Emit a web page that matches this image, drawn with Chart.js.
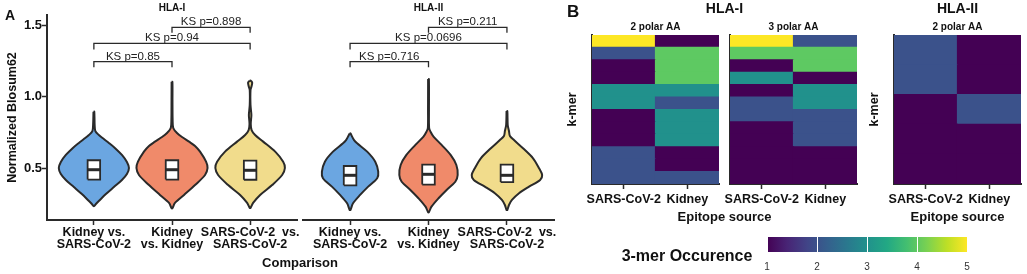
<!DOCTYPE html>
<html><head><meta charset="utf-8">
<script src="https://cdn.jsdelivr.net/npm/chart.js@4.4.1/dist/chart.umd.min.js"></script>
<style>
html,body{margin:0;padding:0;background:#fff;}
#wrap{position:relative;width:1027px;height:274px;overflow:hidden;background:#fff;}
canvas{position:absolute;left:0;top:0;}
</style></head><body>
<div id="wrap">
<canvas id="a1" width="1027" height="274"></canvas>
<canvas id="a2" width="1027" height="274"></canvas>
<canvas id="b1" width="1027" height="274"></canvas>
<canvas id="b2" width="1027" height="274"></canvas>
<canvas id="b3" width="1027" height="274"></canvas>
<canvas id="cb" width="1027" height="274"></canvas>
</div>
<script>
// ---------------- DATA ----------------
const comparisonLabels = [["Kidney vs.", "SARS-CoV-2"], ["Kidney", "vs. Kidney"], ["SARS-CoV-2  vs.", "SARS-CoV-2"]];
const yTicks = [0.5, 1.0, 1.5];
const pairs = [[1, 2], [1, 3], [2, 3]];
const ksHLA1 = ["KS p=0.85", "KS p=0.94", "KS p=0.898"];
const ksHLA2 = ["KS p=0.716", "KS p=0.0696", "KS p=0.211"];
const bracketTop = [1.244, 1.372, 1.484];
const bracketLow = [1.205, 1.330, 1.446];

// violin outlines: levels (Normalized Blosum62) and density half-widths (category units)
const hla1KvsS_levels = [0.895, 0.802, 0.760, 0.732, 0.704, 0.677, 0.642, 0.593, 0.544, 0.502, 0.460, 0.418, 0.369, 0.320, 0.279, 0.251, 0.237];
const hla1KvsS_dens   = [0.005, 0.010, 0.019, 0.064, 0.128, 0.192, 0.269, 0.359, 0.423, 0.449, 0.423, 0.359, 0.256, 0.154, 0.077, 0.026, 0.005];
const hla1KvsK_levels = [1.104, 0.977, 0.837, 0.781, 0.746, 0.718, 0.686, 0.656, 0.616, 0.546, 0.502, 0.453, 0.383, 0.314, 0.258, 0.221];
const hla1KvsK_dens   = [0.005, 0.006, 0.008, 0.016, 0.064, 0.128, 0.218, 0.295, 0.359, 0.436, 0.455, 0.423, 0.295, 0.154, 0.038, 0.005];
const hla1SvsS_levels = [1.112, 1.099, 1.074, 1.046, 0.941, 0.872, 0.809, 0.767, 0.732, 0.686, 0.616, 0.546, 0.502, 0.453, 0.383, 0.314, 0.258, 0.223];
const hla1SvsS_dens   = [0.005, 0.026, 0.019, 0.005, 0.005, 0.016, 0.008, 0.019, 0.064, 0.167, 0.321, 0.423, 0.445, 0.410, 0.282, 0.128, 0.038, 0.005];
const hla2KvsS_levels = [0.744, 0.721, 0.697, 0.674, 0.616, 0.546, 0.476, 0.430, 0.372, 0.314, 0.256, 0.209];
const hla2KvsS_dens   = [0.005, 0.026, 0.051, 0.090, 0.218, 0.321, 0.359, 0.346, 0.231, 0.128, 0.038, 0.005];
const hla2KvsK_levels = [1.123, 0.907, 0.781, 0.755, 0.721, 0.663, 0.593, 0.523, 0.453, 0.406, 0.349, 0.291, 0.232, 0.193];
const hla2KvsK_dens   = [0.005, 0.006, 0.008, 0.026, 0.064, 0.167, 0.282, 0.355, 0.372, 0.342, 0.231, 0.128, 0.038, 0.005];
const hla2SvsS_levels = [0.900, 0.802, 0.760, 0.725, 0.697, 0.640, 0.570, 0.500, 0.453, 0.418, 0.372, 0.326, 0.279, 0.244, 0.209];
const hla2SvsS_dens   = [0.005, 0.010, 0.026, 0.038, 0.090, 0.205, 0.333, 0.410, 0.449, 0.423, 0.282, 0.154, 0.064, 0.026, 0.005];

// box stats
const hla1Q1 = [0.421, 0.421, 0.420];
const hla1Q3 = [0.556, 0.556, 0.553];
const hla1Med = [0.490, 0.490, 0.486];
const hla2Q1 = [0.381, 0.386, 0.404];
const hla2Q3 = [0.516, 0.526, 0.526];
const hla2Med = [0.451, 0.458, 0.451];

// heatmaps (rows top to bottom), 3-mer occurrence
const sourceLabels = ["SARS-CoV-2", "Kidney"];
const hla1Polar2_sars   = [5, 2, 1, 1, 3, 3, 1, 1, 1, 2, 2, 2];
const hla1Polar2_kidney = [1, 4, 4, 4, 3, 2, 3, 3, 3, 1, 1, 2];
const hla1Polar3_sars   = [5, 4, 1, 3, 1, 2, 2, 1, 1, 1, 1, 1];
const hla1Polar3_kidney = [2, 4, 4, 1, 3, 3, 2, 2, 2, 1, 1, 1];
const hla2Polar2_sars   = [2, 2, 1, 1, 1];
const hla2Polar2_kidney = [1, 1, 2, 1, 1];
const colorbarTicks = [1, 2, 3, 4, 5];

// ---------------- STYLE ----------------
const FONT = '"Liberation Sans", Arial, Helvetica, sans-serif';
Chart.defaults.font.family = FONT;
const EDGE = '#2a2a2a';
const VCOL = ['#6ba6e1', '#f08a6a', '#f1dc8c'];
const VIR5 = ['#440154', '#3b528b', '#21918c', '#5ec962', '#fde725'];
const VIR_STOPS = ['#440154', '#482475', '#414487', '#355f8d', '#2a788e', '#21918c', '#22a884', '#44bf70', '#7ad151', '#bddf26', '#fde725'];

function textPlugin(items) {
  return {
    id: 'txt',
    afterDraw(chart) {
      const ctx = chart.ctx;
      items.forEach(t => {
        const p = typeof t.pos === 'function' ? t.pos(chart) : t.pos;
        ctx.save();
        ctx.font = t.font;
        ctx.fillStyle = t.color || '#111';
        ctx.textAlign = t.align || 'center';
        ctx.textBaseline = 'alphabetic';
        ctx.fillText(t.text, p.x, p.y);
        ctx.restore();
      });
    }
  };
}

function violinPoints(c, levels, dens) {
  const left = levels.map((y, i) => ({x: c - dens[i], y}));
  const right = levels.map((y, i) => ({x: c + dens[i], y})).reverse();
  const pts = left.concat(right);
  pts.push(pts[0]);
  return pts;
}

function violinDatasets(levels, dens, q1, q3, med) {
  const ds = [];
  const bw = 0.08;
  for (let i = 0; i < 3; i++) {
    const c = i + 1;
    ds.push({data: violinPoints(c, levels[i], dens[i]), showLine: true, fill: 'shape',
      backgroundColor: VCOL[i], borderColor: EDGE, borderWidth: 2, tension: 0.3, pointRadius: 0, order: 3});
    ds.push({data: [{x: c - bw, y: q1[i]}, {x: c + bw, y: q1[i]}, {x: c + bw, y: q3[i]}, {x: c - bw, y: q3[i]}, {x: c - bw, y: q1[i]}],
      showLine: true, fill: 'shape', backgroundColor: '#fff', borderColor: EDGE, borderWidth: 1.8, tension: 0, pointRadius: 0, order: 2, borderJoinStyle: 'miter'});
    ds.push({data: [{x: c - bw, y: med[i]}, {x: c + bw, y: med[i]}], showLine: true, fill: false,
      borderColor: EDGE, borderWidth: 3, tension: 0, pointRadius: 0, order: 1});
  }
  pairs.forEach(([a, b], k) => {
    ds.push({data: [{x: a, y: bracketLow[k]}, {x: a, y: bracketTop[k]}, {x: b, y: bracketTop[k]}, {x: b, y: bracketLow[k]}],
      showLine: true, fill: false, borderColor: EDGE, borderWidth: 1.3, tension: 0, pointRadius: 0, order: 0});
  });
  return ds;
}

function ksTexts(labels) {
  return pairs.map(([a, b], k) => ({
    text: labels[k], font: `11.5px ${FONT}`, color: '#222',
    pos: ch => ({x: ch.scales.x.getPixelForValue((a + b) / 2), y: ch.scales.y.getPixelForValue(bracketTop[k]) - 2})
  }));
}

function violinChart(id, levels, dens, q1, q3, med, padL, padR, showY, texts) {
  return new Chart(document.getElementById(id), {
    type: 'scatter',
    data: {datasets: violinDatasets(levels, dens, q1, q3, med)},
    options: {
      responsive: false, animation: false, events: [], devicePixelRatio: 1,
      layout: {padding: {left: padL, right: padR, top: 15, bottom: 0}},
      plugins: {legend: {display: false}, tooltip: {enabled: false}},
      scales: {
        x: {type: 'linear', min: 0.4, max: 3.6,
          afterBuildTicks: s => { s.ticks = [1, 2, 3].map(v => ({value: v})); },
          afterFit: s => { s.height = 54; },
          ticks: {callback: v => comparisonLabels[v - 1], autoSkip: false, maxRotation: 0, minRotation: 0, padding: 1,
            color: '#111', font: {size: 12.5, weight: 'bold', lineHeight: 1.0}},
          grid: {drawOnChartArea: false, drawTicks: true, tickLength: 5, tickColor: EDGE, tickWidth: 1.5},
          border: {color: EDGE, width: 2}},
        y: {type: 'linear', min: 0.139, max: 1.57, display: showY,
          afterBuildTicks: s => { s.ticks = yTicks.map(v => ({value: v})); },
          afterFit: s => { s.width = showY ? 47 : 0; },
          ticks: {callback: v => v.toFixed(1), padding: 0, color: '#111', font: {size: 13, weight: 'bold'}},
          grid: {drawOnChartArea: false, drawTicks: true, tickLength: 5, tickColor: EDGE, tickWidth: 1.5},
          border: {color: EDGE, width: 2},
          title: {display: true, text: 'Normalized Blosum62', color: '#111', font: {size: 12.5, weight: 'bold'}, padding: {top: 5, bottom: 0}}}
      }
    },
    plugins: [textPlugin(texts)]
  });
}

violinChart('a1',
  [hla1KvsS_levels, hla1KvsK_levels, hla1SvsS_levels], [hla1KvsS_dens, hla1KvsK_dens, hla1SvsS_dens],
  hla1Q1, hla1Q3, hla1Med, 0, 730, true,
  [{text: 'A', font: `bold 14px ${FONT}`, align: 'left', pos: {x: 5, y: 20}},
   {text: 'HLA-I', font: `bold 10px ${FONT}`, pos: ch => ({x: (ch.chartArea.left + ch.chartArea.right) / 2, y: 10.7})},
   {text: 'Comparison', font: `bold 13px ${FONT}`, pos: {x: 300, y: 267}}].concat(ksTexts(ksHLA1)));

violinChart('a2',
  [hla2KvsS_levels, hla2KvsK_levels, hla2SvsS_levels], [hla2KvsS_dens, hla2KvsK_dens, hla2SvsS_dens],
  hla2Q1, hla2Q3, hla2Med, 303, 473, false,
  [{text: 'HLA-II', font: `bold 10px ${FONT}`, pos: ch => ({x: (ch.chartArea.left + ch.chartArea.right) / 2, y: 10.7})}].concat(ksTexts(ksHLA2)));

function heatmap(id, sars, kidney, padL, padR, yw, showTitle, texts) {
  const n = sars.length;
  const datasets = [];
  for (let r = n - 1; r >= 0; r--) {
    datasets.push({data: [1, 1], backgroundColor: [VIR5[sars[r] - 1], VIR5[kidney[r] - 1]],
      borderColor: [VIR5[sars[r] - 1], VIR5[kidney[r] - 1]], borderWidth: 0, inflateAmount: 0.6,
      barPercentage: 1, categoryPercentage: 1});
  }
  return new Chart(document.getElementById(id), {
    type: 'bar',
    data: {labels: sourceLabels, datasets},
    options: {
      responsive: false, animation: false, events: [], devicePixelRatio: 1,
      layout: {padding: {left: padL, right: padR, top: 35, bottom: 60}},
      plugins: {legend: {display: false}, tooltip: {enabled: false}},
      scales: {
        x: {stacked: true, afterFit: s => { s.height = 30; },
          ticks: {padding: 3, color: '#111', autoSkip: false, maxRotation: 0, minRotation: 0, font: {size: 12.5, weight: 'bold'}},
          grid: {offset: false, drawOnChartArea: false, drawTicks: true, tickLength: 5, tickColor: EDGE, tickWidth: 1.5},
          border: {color: EDGE, width: 2}},
        y: {stacked: true, min: 0, max: n, afterFit: s => { s.width = yw; },
          ticks: {display: false}, grid: {display: false},
          border: {color: EDGE, width: 2},
          title: {display: showTitle, text: 'k-mer', color: '#111', font: {size: 12.5, weight: 'bold'}, padding: {top: 3.5, bottom: 0}}}
      }
    },
    plugins: [textPlugin(texts)]
  });
}

const mid = ch => (ch.chartArea.left + ch.chartArea.right) / 2;
heatmap('b1', hla1Polar2_sars, hla1Polar2_kidney, 562, 308, 30, true, [
  {text: 'B', font: `bold 17px ${FONT}`, align: 'left', pos: {x: 567, y: 17.3}},
  {text: 'HLA-I', font: `bold 14px ${FONT}`, pos: {x: 724.5, y: 13.3}},
  {text: '2 polar AA', font: `bold 10px ${FONT}`, pos: ch => ({x: mid(ch), y: 30})},
  {text: 'Epitope source', font: `bold 13px ${FONT}`, pos: {x: 724.5, y: 221}}
]);
heatmap('b2', hla1Polar3_sars, hla1Polar3_kidney, 730, 170, 0, false, [
  {text: '3 polar AA', font: `bold 10px ${FONT}`, pos: ch => ({x: mid(ch), y: 30})}
]);
heatmap('b3', hla2Polar2_sars, hla2Polar2_kidney, 864, 6, 30, true, [
  {text: 'HLA-II', font: `bold 14px ${FONT}`, pos: ch => ({x: mid(ch), y: 13.3})},
  {text: '2 polar AA', font: `bold 10px ${FONT}`, pos: ch => ({x: mid(ch), y: 30})},
  {text: 'Epitope source', font: `bold 13px ${FONT}`, pos: ch => ({x: mid(ch), y: 221})}
]);

new Chart(document.getElementById('cb'), {
  type: 'bar',
  data: {labels: ['3-mer'], datasets: [{
    data: [[colorbarTicks[0], colorbarTicks[colorbarTicks.length - 1]]],
    backgroundColor: c => {
      const ca = c.chart.chartArea;
      if (!ca) return VIR5[0];
      const g = c.chart.ctx.createLinearGradient(ca.left, 0, ca.right, 0);
      VIR_STOPS.forEach((col, i, arr) => g.addColorStop(i / (arr.length - 1), col));
      return g;
    },
    borderWidth: 0, barPercentage: 1, categoryPercentage: 1
  }]},
  options: {
    indexAxis: 'y', responsive: false, animation: false, events: [], devicePixelRatio: 1,
    layout: {padding: {left: 767, right: 60, top: 237, bottom: 0}},
    plugins: {legend: {display: false}, tooltip: {enabled: false}},
    scales: {
      x: {type: 'linear', min: 1, max: 5,
        afterBuildTicks: s => { s.ticks = colorbarTicks.map(v => ({value: v})); },
        afterFit: s => { s.height = 22; },
        ticks: {padding: 9, color: '#333', font: {size: 10}},
        grid: {color: '#ffffff', lineWidth: 1, drawTicks: false, z: 1},
        border: {display: false}},
      y: {display: false}
    }
  },
  plugins: [textPlugin([
    {text: '3-mer Occurence', font: `bold 16px ${FONT}`, pos: {x: 687, y: 261}}
  ])]
});
</script>
</body></html>
